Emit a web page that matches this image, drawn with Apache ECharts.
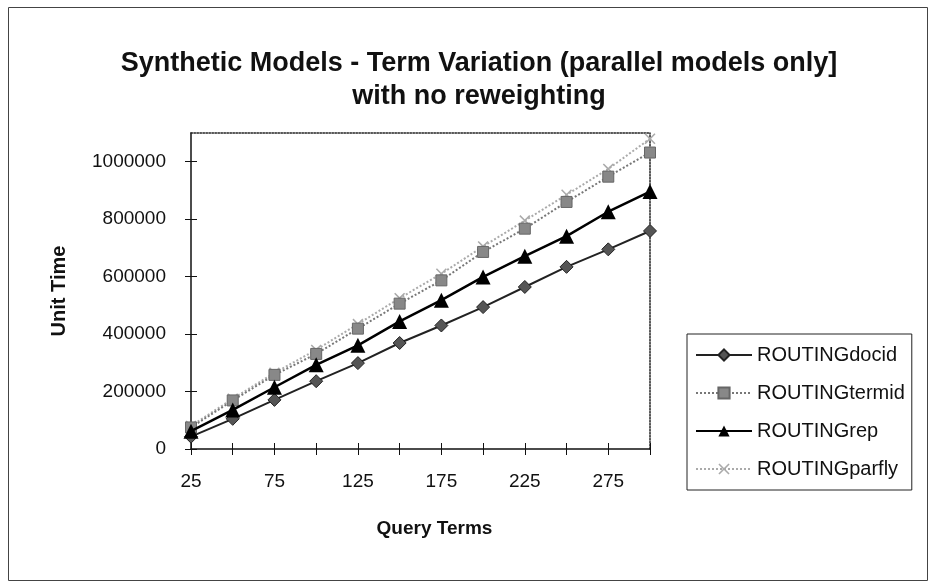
<!DOCTYPE html>
<html>
<head>
<meta charset="utf-8">
<script src="https://cdn.jsdelivr.net/npm/echarts@6/dist/echarts.min.js"></script>
<style>
html,body{margin:0;padding:0;background:#fff;}
#chart{width:932px;height:586px;}
</style>
</head>
<body>
<div id="chart"></div>
<script>
var queryTerms = ['25','50','75','100','125','150','175','200','225','250','275','300'];
var routingDocid  = [43000, 105000, 171000, 236000, 299000, 369000, 430000, 494000, 564000, 634000, 695000, 759000];
var routingTermid = [75000, 169000, 258000, 331000, 419000, 506000, 587000, 686000, 767000, 860000, 948000, 1032000];
var routingRep    = [62000, 136000, 215000, 293000, 361000, 444000, 518000, 599000, 671000, 741000, 826000, 896000];
var routingParfly = [80000, 175000, 265000, 345000, 435000, 525000, 610000, 705000, 795000, 885000, 975000, 1080000];
var yTicks = [0, 200000, 400000, 600000, 800000, 1000000];

var chart = echarts.init(document.getElementById('chart'));
var FONT = 'Liberation Sans, Arial, sans-serif';
var xSymbol = 'path://M0,1L1,0L5,4L9,0L10,1L6,5L10,9L9,10L5,6L1,10L0,9L4,5Z';

chart.setOption({
  backgroundColor: '#fff',
  animation: false,
  title: {
    text: 'Synthetic Models - Term Variation (parallel models only]\nwith no reweighting',
    left: 474, top: 42, textAlign: 'center',
    textStyle: {fontFamily: FONT, fontSize: 27, fontWeight: 'bold', color: '#111', lineHeight: 33}
  },
  graphic: [{
    type: 'rect', left: 6, top: 5, shape: {width: 919, height: 573},
    style: {fill: 'none', stroke: '#444', lineWidth: 1}, silent: true
  }],
  legend: {
    orient: 'vertical', left: 687, top: 334,
    padding: [11, 7, 11, 8],
    itemGap: 18, itemWidth: 56, itemHeight: 14,
    borderColor: '#222', borderWidth: 1,
    textStyle: {fontFamily: FONT, fontSize: 20, color: '#111'},
    data: ['ROUTINGdocid', 'ROUTINGtermid', 'ROUTINGrep', 'ROUTINGparfly']
  },
  grid: {left: 191, right: 282, top: 133, bottom: 137, containLabel: false},
  xAxis: [{
    type: 'category', data: queryTerms, boundaryGap: false, position: 'bottom',
    name: 'Query Terms', nameLocation: 'middle', nameGap: 70,
    nameTextStyle: {fontFamily: FONT, fontSize: 19, fontWeight: 'bold', color: '#111', padding: [0, 0, 0, 28]},
    axisLine: {onZero: false, lineStyle: {color: '#111', width: 1.5}},
    axisTick: {interval: 0, length: 6, lineStyle: {color: '#111'}},
    axisLabel: {interval: 1, margin: 23, fontFamily: FONT, fontSize: 19, color: '#111'},
    splitLine: {show: false}
  }, {
    type: 'category', data: queryTerms, boundaryGap: false, position: 'bottom',
    axisLine: {show: false, onZero: false},
    axisTick: {inside: true, interval: 0, length: 6, lineStyle: {color: '#111'}},
    axisLabel: {show: false}, splitLine: {show: false}
  }, {
    type: 'category', data: queryTerms, boundaryGap: false, position: 'top',
    axisLine: {show: true, onZero: false, lineStyle: {color: '#222', width: 1.5, type: 'dotted'}},
    axisTick: {show: false}, axisLabel: {show: false}, splitLine: {show: false}
  }],
  yAxis: [{
    type: 'value', min: 0, max: 1100000, interval: 200000, position: 'left',
    name: 'Unit Time', nameLocation: 'middle', nameGap: 122, nameRotate: 90,
    nameTextStyle: {fontFamily: FONT, fontSize: 20, fontWeight: 'bold', color: '#111'},
    axisLine: {show: true, onZero: false, lineStyle: {color: '#111', width: 1.5}},
    axisTick: {show: true, length: 6, customValues: yTicks, lineStyle: {color: '#111'}},
    axisLabel: {margin: 25, customValues: yTicks, fontFamily: FONT, fontSize: 19, color: '#111',
      formatter: function (v) { return String(v); }},
    splitLine: {show: false}
  }, {
    type: 'value', min: 0, max: 1100000, interval: 200000, position: 'left',
    axisLine: {show: false},
    axisTick: {show: true, inside: true, length: 6, customValues: yTicks, lineStyle: {color: '#111'}},
    axisLabel: {show: false}, splitLine: {show: false}
  }, {
    type: 'value', min: 0, max: 1100000, interval: 200000, position: 'right',
    axisLine: {show: true, onZero: false, lineStyle: {color: '#222', width: 1.5, type: 'dotted'}},
    axisTick: {show: false}, axisLabel: {show: false}, splitLine: {show: false}
  }],
  series: [{
    name: 'ROUTINGdocid', type: 'line', data: routingDocid,
    symbol: 'diamond', symbolSize: 13,
    lineStyle: {color: '#222', width: 2},
    itemStyle: {color: '#555', borderColor: '#222', borderWidth: 1},
    z: 3
  }, {
    name: 'ROUTINGtermid', type: 'line', data: routingTermid,
    symbol: 'rect', symbolSize: 11,
    lineStyle: {color: '#777', width: 2, type: 'dotted'},
    itemStyle: {color: '#888', borderColor: '#666', borderWidth: 1},
    z: 2
  }, {
    name: 'ROUTINGrep', type: 'line', data: routingRep,
    symbol: 'triangle', symbolSize: 15,
    lineStyle: {color: '#000', width: 2.5},
    itemStyle: {color: '#000'},
    z: 4
  }, {
    name: 'ROUTINGparfly', type: 'line', data: routingParfly,
    symbol: xSymbol, symbolSize: 11,
    lineStyle: {color: '#aaa', width: 2, type: 'dotted'},
    itemStyle: {color: '#aaa'},
    z: 1
  }]
});
</script>
</body>
</html>
